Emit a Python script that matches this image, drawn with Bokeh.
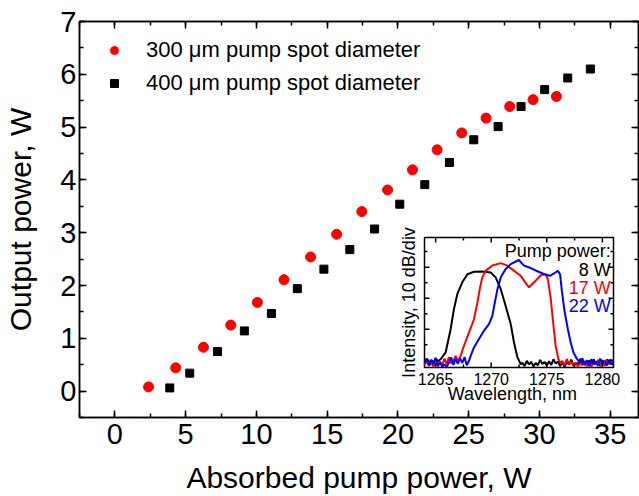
from bokeh.plotting import figure
from bokeh.models import LinearAxis, SingleIntervalTicker, Range1d, CustomJSTickFormatter
from bokeh.core.properties import value
from bokeh.embed import file_html
from bokeh.resources import INLINE

FONT = "Liberation Sans"

# ---------------- main data ----------------
x_300 = [2.38, 4.30, 6.26, 8.19, 10.07, 11.95, 13.83, 15.67, 17.45, 19.27, 21.03,
         22.77, 24.51, 26.23, 27.90, 29.55, 31.20]
y_300 = [0.08, 0.44, 0.83, 1.25, 1.68, 2.11, 2.54, 2.97, 3.40, 3.81, 4.19,
         4.57, 4.89, 5.17, 5.39, 5.52, 5.58]
x_400 = [3.88, 5.29, 7.25, 9.15, 11.06, 12.89, 14.77, 16.60, 18.35, 20.13, 21.90,
         23.64, 25.36, 27.08, 28.70, 30.37, 32.00, 33.60]
y_400 = [0.06, 0.34, 0.75, 1.14, 1.47, 1.94, 2.31, 2.68, 3.07, 3.54, 3.91,
         4.33, 4.76, 5.01, 5.39, 5.71, 5.93, 6.10]
label_300 = "300 μm pump spot diameter"
label_400 = "400 μm pump spot diameter"

# ---------------- inset spectra ----------------
wl_8 = [1264.0, 1264.2, 1264.4, 1264.6, 1264.8, 1265.0, 1265.2, 1265.45, 1265.9, 1266.35,
        1266.65, 1266.95, 1267.4, 1267.86, 1268.45, 1269.2, 1269.95, 1270.4, 1270.86, 1271.3,
        1271.76, 1272.05, 1272.36, 1272.66,
        1272.8, 1273.0, 1273.2, 1273.4, 1273.6, 1273.8, 1274.0, 1274.2, 1274.4, 1274.6,
        1274.8, 1275.0, 1275.2, 1275.4, 1275.6, 1275.8, 1276.0, 1276.2, 1276.4, 1276.6,
        1276.8, 1277.0, 1277.2, 1277.4, 1277.6, 1277.8, 1278.0, 1278.2, 1278.4, 1278.6,
        1278.8, 1279.0, 1279.2, 1279.4, 1279.6, 1279.8, 1280.0, 1280.2, 1280.4, 1280.6,
        1280.8, 1281.0]
db_8 = [-50.6, -49.6, -51.2, -49.9, -50.8, -49.5, -50.3, -49.7, -47.5, -40.0,
        -33.5, -28.7, -24.9, -22.3, -21.5, -21.4, -21.7, -23.3, -27.1, -32.5,
        -38.4, -44.3, -49.1, -51.3,
        -50.8, -51.9, -50.2, -51.4, -50.5, -52.0, -50.9, -51.6, -49.9, -51.2,
        -50.6, -51.8, -50.3, -51.5, -49.7, -51.1, -50.4, -51.9, -50.7, -52.1,
        -50.5, -51.4, -49.8, -51.7, -50.9, -51.3, -49.6, -51.0, -50.4, -51.8,
        -50.1, -51.5, -49.7, -51.2, -50.6, -51.9, -50.0, -51.4, -49.8, -51.1,
        -50.3, -51.6]

wl_17 = [1264.0, 1264.2, 1264.4, 1264.6, 1264.8, 1265.0, 1265.2, 1265.4, 1265.6, 1265.8,
         1266.0, 1266.2, 1266.4, 1266.6, 1266.8, 1267.0,
         1267.25, 1267.55, 1268.0, 1268.45, 1268.76, 1269.0, 1269.2, 1269.5, 1270.1, 1270.86,
         1271.46, 1272.06, 1272.66, 1273.0, 1273.4, 1273.86, 1274.46, 1274.9, 1275.1, 1275.36,
         1275.57, 1275.8, 1276.05, 1276.26,
         1276.4, 1276.6, 1276.8, 1277.0, 1277.2, 1277.4, 1277.6, 1277.8, 1278.0, 1278.2,
         1278.4, 1278.6, 1278.8, 1279.0, 1279.2, 1279.4, 1279.6, 1279.8, 1280.0, 1280.2,
         1280.4, 1280.6, 1280.8, 1281.0]
db_17 = [-51.5, -50.4, -51.8, -50.9, -52.0, -51.2, -51.9, -50.8, -51.6, -49.5,
         -51.3, -49.0, -51.0, -50.2, -48.6, -50.4,
         -48.6, -45.4, -41.1, -36.8, -31.4, -26.5, -23.3, -21.2, -19.5, -18.7,
         -19.5, -21.2, -22.8, -24.6, -26.5, -24.9, -22.6, -22.3, -23.9, -30.3,
         -37.8, -45.4, -49.7, -51.0,
         -50.2, -51.7, -49.6, -51.3, -50.5, -51.9, -50.8, -52.0, -50.9, -51.6,
         -50.3, -51.8, -50.6, -52.1, -50.7, -51.4, -49.9, -51.7, -50.4, -51.9,
         -50.1, -51.3, -49.8, -51.0]

wl_22 = [1264.0, 1264.2, 1264.4, 1264.6, 1264.8, 1265.0, 1265.2, 1265.4, 1265.6, 1265.8,
         1266.0, 1266.2, 1266.4, 1266.6, 1266.8, 1267.0, 1267.2, 1267.4, 1267.6, 1267.8,
         1268.0,
         1268.15, 1268.45, 1268.9, 1269.35, 1269.8, 1270.1, 1270.3, 1270.56, 1270.86, 1271.3,
         1271.76, 1272.48, 1272.95, 1273.56, 1274.2, 1274.9, 1275.27, 1275.7, 1276.0, 1276.2,
         1276.35, 1276.6, 1276.9, 1277.15, 1277.4, 1277.7, 1277.97,
         1278.2, 1278.4, 1278.6, 1278.8, 1279.0, 1279.2, 1279.4, 1279.6, 1279.8, 1280.0,
         1280.2, 1280.4, 1280.6, 1280.8, 1281.0]
db_22 = [-51.0, -49.4, -51.7, -50.1, -51.3, -49.2, -51.8, -50.5, -52.1, -51.4,
         -52.0, -50.8, -49.1, -51.5, -49.6, -51.2, -49.3, -50.9, -49.0, -51.6,
         -50.2,
         -48.6, -45.9, -43.2, -40.5, -38.4, -35.7, -31.9, -27.1, -23.3, -20.6,
         -19.0, -17.7, -19.5, -20.3, -21.4, -22.4, -22.8, -21.9, -21.2, -22.4,
         -27.5, -34.3, -40.1, -44.3, -47.5, -49.5, -50.8,
         -49.4, -51.6, -50.0, -51.9, -49.7, -51.3, -50.4, -51.8, -49.5, -51.1,
         -50.2, -51.7, -49.9, -51.4, -50.3]

# inset axes: ticks and labels
wl_major = [1265, 1270, 1275, 1280]
wl_major_labels = ["1265", "1270", "1275", "1280"]
wl_minor = [1267.5, 1272.5, 1277.5]
db_major = [-50, -40, -30, -20]
db_minor = [-45, -35, -25, -15]
inset_xlabel = "Wavelength, nm"
inset_ylabel = "Intensity, 10 dB/div"
inset_title = "Pump power:"
inset_labels = ["8 W", "17 W", "22 W"]
inset_colors = ["#000000", "#ff0000", "#0000ff"]

# ---------------- layout (pixels, page coordinates) ----------------
W, H = 639, 496
FR_L, FR_R, FR_T, FR_B = 79, 638, 21, 417      # main frame
IN_L, IN_R, IN_T, IN_B = 424, 613, 237, 367     # inset frame
WL0, WL1 = 1264.0, 1281.0                        # inset x limits
DB0, DB1 = -52.35, -10.45                        # inset y limits
kx = (WL1 - WL0) / (IN_R - IN_L)
ky = (DB1 - DB0) / (IN_B - IN_T)
wl_range = Range1d(WL0 - (IN_L - FR_L) * kx, WL1 + (FR_R - IN_R) * kx)
db_range = Range1d(DB0 - (FR_B - IN_B) * ky, DB1 + (IN_T - FR_T) * ky)


def style_axis(ax, lw, tin, tmin, fs=None):
    ax.axis_line_width = lw
    ax.major_tick_line_width = lw
    ax.minor_tick_line_width = lw
    ax.major_tick_in = tin
    ax.major_tick_out = 0
    ax.minor_tick_in = tmin
    ax.minor_tick_out = 0
    ax.major_label_text_font = FONT
    ax.axis_label_text_font = FONT
    ax.axis_label_text_font_style = "normal"
    ax.major_label_text_color = "black"
    ax.axis_label_text_color = "black"
    if fs is None:
        ax.formatter = CustomJSTickFormatter(code="return ''")
        ax.major_label_standoff = 0
    else:
        ax.major_label_text_font_size = fs


# ---------------- main figure ----------------
p = figure(width=W, height=H, x_range=Range1d(-2.5, 37), y_range=Range1d(-0.5, 7),
           output_backend="svg", toolbar_location=None,
           min_border_left=FR_L, min_border_right=W - FR_R,
           min_border_top=FR_T, min_border_bottom=H - FR_B)
p.extra_x_ranges = {"wl": wl_range}
p.extra_y_ranges = {"db": db_range}
p.xgrid.grid_line_color = None
p.ygrid.grid_line_color = None
p.outline_line_color = "black"
p.outline_line_width = 1.5

xt = SingleIntervalTicker(interval=5, num_minor_ticks=2)
yt = SingleIntervalTicker(interval=1, num_minor_ticks=2)

xa = p.xaxis[0]
xa.ticker = xt
xa.axis_label = "Absorbed pump power, W"
style_axis(xa, 1.5, 7, 4, "29px")
xa.axis_label_text_font_size = "30px"
xa.major_label_standoff = 6
xa.axis_label_standoff = 14

ya = p.yaxis[0]
ya.ticker = yt
ya.axis_label = "Output power, W"
style_axis(ya, 1.5, 7, 4, "29px")
ya.axis_label_text_font_size = "30px"
ya.major_label_standoff = 3
ya.axis_label_standoff = 20

top_ax = LinearAxis(ticker=xt)
style_axis(top_ax, 1.5, 7, 4)
p.add_layout(top_ax, "above")
right_ax = LinearAxis(ticker=yt)
style_axis(right_ax, 1.5, 7, 4)
p.add_layout(right_ax, "right")

p.scatter(x_300, y_300, marker="circle", size=10, color="#ff0000", legend_label=label_300)
p.scatter(x_400, y_400, marker="square", size=8, color="#000000", legend_label=label_400)

lg = p.legend[0]
lg.location = (25, 319)
lg.border_line_color = None
lg.background_fill_alpha = 0
lg.padding = 0
lg.margin = 0
lg.spacing = 3
lg.glyph_width = 20
lg.glyph_height = 30
lg.label_height = 30
lg.label_standoff = 22
lg.label_text_font = FONT
lg.label_text_font_size = "22px"
lg.label_text_color = "black"

# ---------------- inset (drawn on its own scales) ----------------
R = dict(x_range_name="wl", y_range_name="db")
p.quad(left=[WL0], right=[WL1], bottom=[DB0], top=[DB1], fill_color="white",
       line_color="black", line_width=1.5, **R)

p.line(wl_8, db_8, color=inset_colors[0], line_width=2, **R)
p.line(wl_17, db_17, color=inset_colors[1], line_width=2, **R)
p.line(wl_22, db_22, color=inset_colors[2], line_width=2, **R)

for ticks, ln in ((wl_major, 5), (wl_minor, 3)):
    p.ray(x=ticks, y=[DB0] * len(ticks), length=ln, length_units="screen", angle=90,
          angle_units="deg", line_color="black", line_width=1.5, **R)
    p.ray(x=ticks, y=[DB1] * len(ticks), length=ln, length_units="screen", angle=-90,
          angle_units="deg", line_color="black", line_width=1.5, **R)
for ticks, ln in ((db_major, 5), (db_minor, 3)):
    p.ray(x=[WL0] * len(ticks), y=ticks, length=ln, length_units="screen", angle=0,
          angle_units="deg", line_color="black", line_width=1.5, **R)
    p.ray(x=[WL1] * len(ticks), y=ticks, length=ln, length_units="screen", angle=180,
          angle_units="deg", line_color="black", line_width=1.5, **R)

p.text(x=wl_major, y=[DB0] * len(wl_major), text=wl_major_labels, y_offset=11,
       text_align="center", text_baseline="middle", text_font=value(FONT),
       text_font_size="16px", text_color="black", **R)
p.text(x=[(WL0 + WL1) / 2 - 0.6], y=[DB0], text=[inset_xlabel], y_offset=26,
       text_align="center", text_baseline="middle", text_font=value(FONT),
       text_font_size="18px", text_color="black", **R)
p.text(x=[WL0], y=[(DB0 + DB1) / 2], text=[inset_ylabel], x_offset=-16, angle=90,
       angle_units="deg", text_align="center", text_baseline="middle",
       text_font=value(FONT), text_font_size="18px", text_color="black", **R)

leg_y = [-14.85, -21.05, -26.85, -32.67]
p.text(x=[1280.75] * 4, y=leg_y, text=[inset_title] + inset_labels,
       text_color=["#000000"] + inset_colors, text_align="right", text_baseline="middle",
       text_font=value(FONT), text_font_size="18px", **R)

open("out.html", "w").write(file_html(p, INLINE))
